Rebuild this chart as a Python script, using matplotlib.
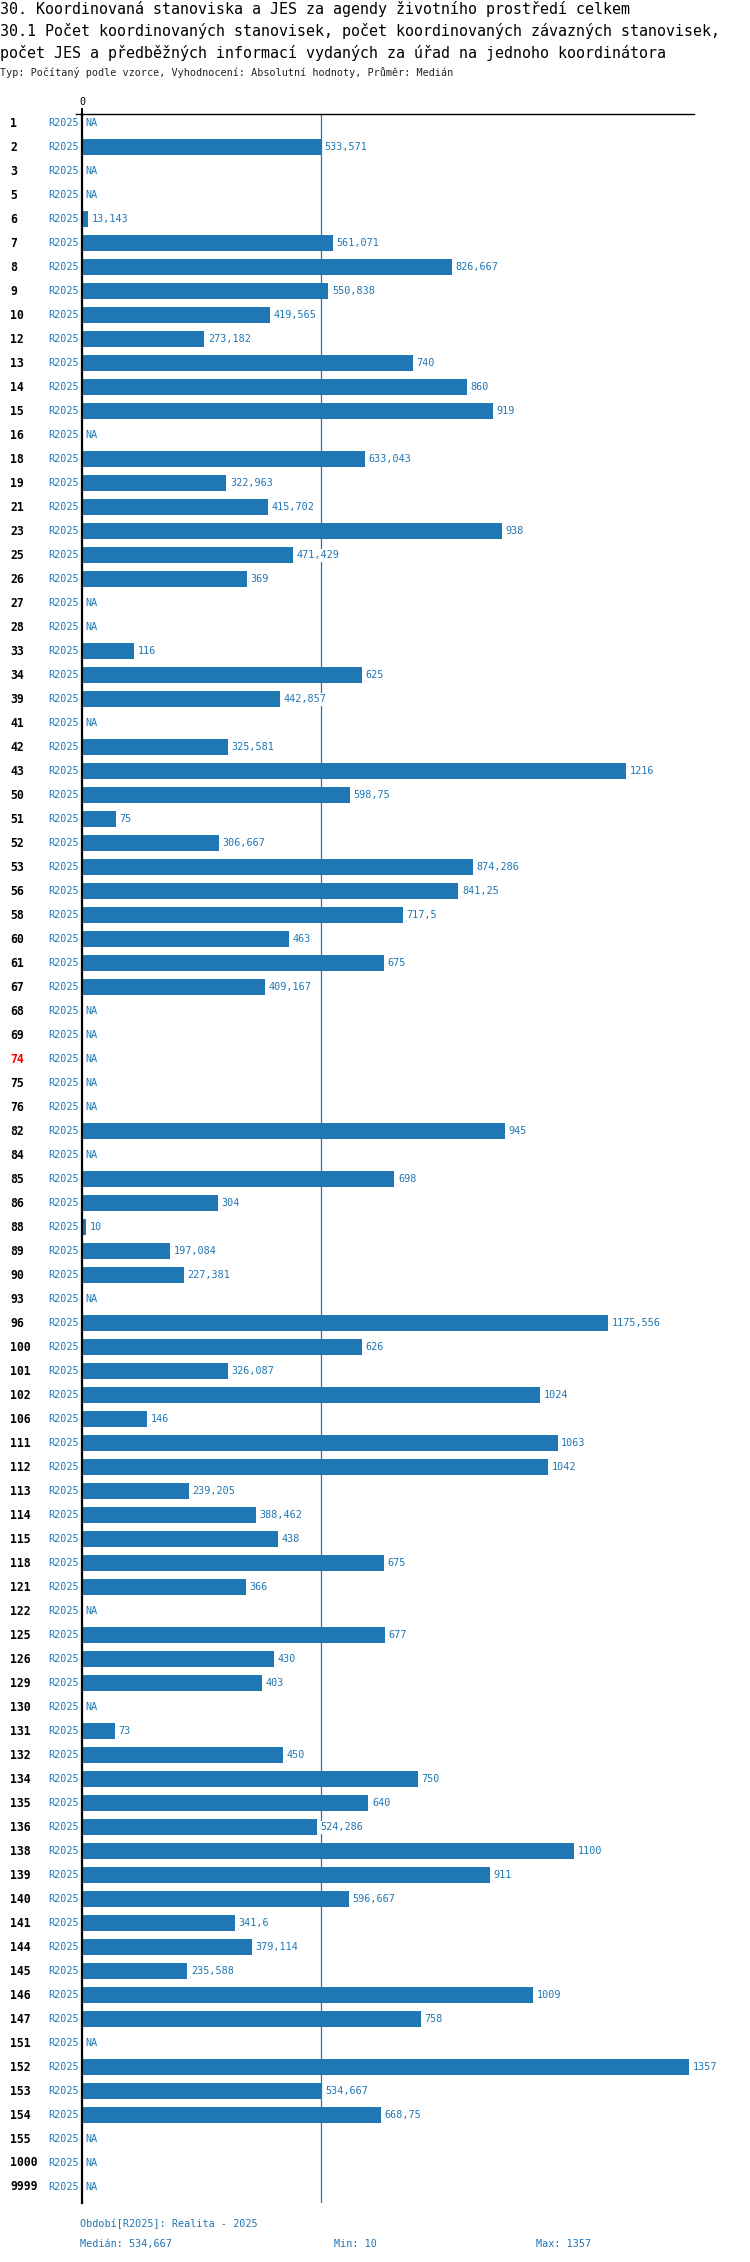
import numpy as np
import matplotlib
matplotlib.use("Agg")
import matplotlib.pyplot as plt
from matplotlib.lines import Line2D

# ---------------- data ----------------
categories = ['1', '2', '3', '5', '6', '7', '8', '9', '10', '12', '13', '14', '15', '16', '18', '19',
              '21', '23', '25', '26', '27', '28', '33', '34', '39', '41', '42', '43', '50', '51', '52',
              '53', '56', '58', '60', '61', '67', '68', '69', '74', '75', '76', '82', '84', '85', '86',
              '88', '89', '90', '93', '96', '100', '101', '102', '106', '111', '112', '113', '114',
              '115', '118', '121', '122', '125', '126', '129', '130', '131', '132', '134', '135',
              '136', '138', '139', '140', '141', '144', '145', '146', '147', '151', '152', '153',
              '154', '155', '1000', '9999']

values = [None, 533.571, None, None, 13.143, 561.071, 826.667, 550.838, 419.565, 273.182, 740, 860,
          919, None, 633.043, 322.963, 415.702, 938, 471.429, 369, None, None, 116, 625, 442.857,
          None, 325.581, 1216, 598.75, 75, 306.667, 874.286, 841.25, 717.5, 463, 675, 409.167,
          None, None, None, None, None, 945, None, 698, 304, 10, 197.084, 227.381, None,
          1175.556, 626, 326.087, 1024, 146, 1063, 1042, 239.205, 388.462, 438, 675, 366, None,
          677, 430, 403, None, 73, 450, 750, 640, 524.286, 1100, 911, 596.667, 341.6, 379.114,
          235.588, 1009, 758, None, 1357, 534.667, 668.75, None, None, None]

series_label = 'R2025'
highlight = ['74']

title_lines = [
    "30. Koordinovaná stanoviska a JES za agendy životního prostředí celkem",
    "30.1 Počet koordinovaných stanovisek, počet koordinovaných závazných stanovisek,",
    "počet JES a předběžných informací vydaných za úřad na jednoho koordinátora",
]
subtitle = "Typ: Počítaný podle vzorce, Vyhodnocení: Absolutní hodnoty, Průměr: Medián"
period_text = "Období[R2025]: Realita - 2025"


def fmt(v):
    s = f"{v:.3f}".rstrip('0').rstrip('.')
    return s.replace('.', ',')


# ---------------- figure ----------------
W, H = 750, 2262
DPI = 100
BLUE = '#1f77b4'
FONT = 'DejaVu Sans Mono'
plt.rcParams['font.family'] = [FONT, 'DejaVu Sans']

fig = plt.figure(figsize=(W / DPI, H / DPI), dpi=DPI)
fig.patch.set_facecolor('white')

ax_left, ax_right, ax_top, ax_bot = 82, 694, 114, 2203
ax = fig.add_axes([ax_left / W, 1 - ax_bot / H, (ax_right - ax_left) / W, (ax_bot - ax_top) / H])

n = len(categories)
idx = np.arange(n)
vals = np.array([np.nan if v is None else v for v in values], dtype=float)
valid = ~np.isnan(vals)

vmax = np.nanmax(vals)
vmin = np.nanmin(vals)
med = np.nanmedian(vals)

ax.set_xlim(0, vmax * 1.008)
ax.set_ylim(n - 1 + 0.667, -0.39)

ax.barh(idx[valid], vals[valid], height=0.667, color=BLUE, zorder=2)
ax.axvline(med, color=BLUE, lw=0.9, zorder=1)

# value labels
for i, v in zip(idx, vals):
    txt = 'NA' if np.isnan(v) else fmt(v)
    xv = 0 if np.isnan(v) else v
    ax.annotate(txt, xy=(xv, i), xytext=(2.6, 0), textcoords='offset points',
                ha='left', va='center', fontsize=7.3, color=BLUE, zorder=4,
                bbox=dict(boxstyle='square,pad=0.15', fc='white', ec='none'))

# category and series labels
ytr = ax.get_yaxis_transform()
aw = ax_right - ax_left
for i, c in zip(idx, categories):
    ax.text((10 - ax_left) / aw, i, c, transform=ytr, ha='left', va='center',
            fontsize=8.3, fontweight='bold', color='red' if c in highlight else 'black',
            clip_on=False)
    ax.text((79 - ax_left) / aw, i, series_label, transform=ytr, ha='right', va='center',
            fontsize=7.3, color=BLUE, clip_on=False)

# spines / ticks
for s in ['right', 'bottom']:
    ax.spines[s].set_visible(False)
ax.spines['left'].set_linewidth(1.6)
ax.spines['left'].set_color('black')
ax.spines['top'].set_linewidth(1.0)
ax.spines['top'].set_color('black')
ax.set_yticks([])
ax.xaxis.set_ticks_position('top')
ax.set_xticks([0])
ax.set_xticklabels(['0'])
ax.tick_params(axis='x', direction='out', length=4, width=1.4, pad=1, labelsize=7.3,
               colors='black')
ax.add_line(Line2D([-6 / aw, 0], [1, 1], transform=ax.transAxes, color='black', lw=1.0,
                   clip_on=False))

# titles
def ftext(x, y, s, **kw):
    fig.text(x / W, 1 - y / H, s, **kw)

for k, line in enumerate(title_lines):
    ftext(0, 9 + 22 * k, line, ha='left', va='center', fontsize=10.8, color='black')
ftext(0, 73, subtitle, ha='left', va='center', fontsize=7.3, color='#222222')

# footer
ftext(80, 2224, period_text, ha='left', va='center', fontsize=7.3, color=BLUE)
ftext(80, 2244, f"Medián: {fmt(med)}", ha='left', va='center', fontsize=7.3, color=BLUE)
ftext(334, 2244, f"Min: {fmt(vmin)}", ha='left', va='center', fontsize=7.3, color=BLUE)
ftext(536, 2244, f"Max: {fmt(vmax)}", ha='left', va='center', fontsize=7.3, color=BLUE)

fig.savefig('out.png', dpi=DPI)
